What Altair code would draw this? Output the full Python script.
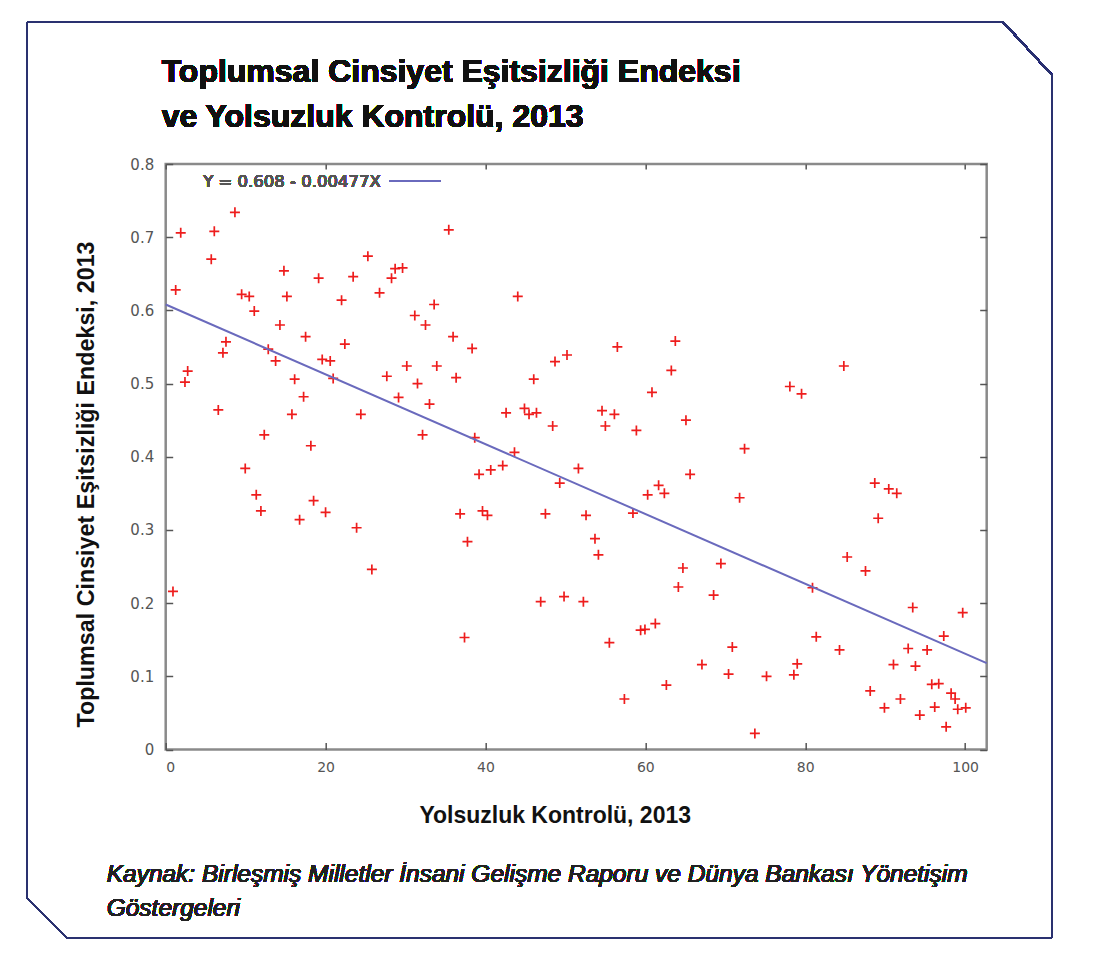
import altair as alt
import pandas as pd

# ---------------- data ----------------
X_VALS = [8.66, 1.88, 6.08, 5.70, 25.29, 1.25, 14.79, 19.13, 23.45, 9.50,
          10.45, 15.16, 22.0, 11.08, 14.29, 17.5, 22.41, 7.54, 7.16, 12.83,
          13.75, 19.58, 20.58, 2.75, 2.41, 16.13, 20.95, 17.25, 6.58, 15.79,
          24.41, 12.33, 18.16, 26.75, 28.7, 29.63, 28.25, 35.41, 33.58, 31.16,
          32.5, 35.95, 38.33, 30.16, 33.91, 27.66, 36.33, 31.5, 29.13, 33.0,
          44.04, 46.04, 48.7, 50.2, 42.58, 44.88, 45.45, 46.38, 48.41, 32.13,
          38.66, 43.63, 9.95, 11.33, 11.91, 18.5, 20.0, 16.75, 23.88, 25.79,
          0.91, 39.2, 40.66, 42.16, 49.29, 51.63, 36.83, 39.63, 40.25, 47.5,
          37.75, 37.38, 46.91, 49.83, 56.5, 63.75, 63.25, 60.83, 54.58, 56.13,
          55.0, 58.88, 65.08, 72.41, 78.08, 79.54, 84.83, 65.6, 61.66, 62.38,
          60.29, 71.79, 88.7, 90.45, 91.45, 89.13, 52.58, 58.45, 53.7, 54.13,
          64.7, 69.45, 64.13, 68.54, 80.91, 85.25, 87.54, 52.25, 93.45, 99.7,
          59.41, 59.95, 61.25, 55.5, 70.88, 81.38, 84.29, 97.33, 92.88, 95.25,
          67.08, 79.0, 91.04, 93.79, 70.41, 75.16, 78.58, 95.83, 96.7, 62.63,
          57.38, 88.13, 91.91, 98.25, 98.75, 89.91, 96.2, 99.08, 100.08, 94.33,
          97.63, 73.7]
Y_VALS = [0.734, 0.706, 0.708, 0.670, 0.674, 0.628, 0.654, 0.644, 0.646, 0.622,
          0.619, 0.619, 0.614, 0.599, 0.580, 0.564, 0.554, 0.557, 0.542, 0.547,
          0.531, 0.533, 0.531, 0.517, 0.502, 0.506, 0.507, 0.482, 0.464, 0.458,
          0.458, 0.430, 0.415, 0.624, 0.657, 0.658, 0.644, 0.710, 0.608, 0.593,
          0.580, 0.564, 0.548, 0.524, 0.524, 0.510, 0.508, 0.500, 0.481, 0.472,
          0.619, 0.506, 0.530, 0.539, 0.460, 0.466, 0.458, 0.460, 0.442, 0.430,
          0.426, 0.406, 0.384, 0.348, 0.326, 0.340, 0.324, 0.314, 0.303, 0.246,
          0.216, 0.376, 0.382, 0.388, 0.364, 0.384, 0.322, 0.326, 0.320, 0.322,
          0.284, 0.153, 0.202, 0.209, 0.550, 0.558, 0.518, 0.488, 0.463, 0.458,
          0.442, 0.436, 0.450, 0.411, 0.496, 0.486, 0.524, 0.376, 0.361, 0.350,
          0.348, 0.344, 0.364, 0.356, 0.350, 0.316, 0.320, 0.323, 0.288, 0.266,
          0.248, 0.254, 0.222, 0.211, 0.221, 0.263, 0.244, 0.202, 0.194, 0.187,
          0.163, 0.164, 0.172, 0.146, 0.140, 0.154, 0.136, 0.155, 0.138, 0.136,
          0.116, 0.117, 0.116, 0.114, 0.103, 0.100, 0.102, 0.089, 0.090, 0.088,
          0.069, 0.080, 0.069, 0.077, 0.069, 0.057, 0.058, 0.055, 0.057, 0.047,
          0.031, 0.022]

X_TICKS = [0, 20, 40, 60, 80, 100]
Y_TICKS = [0, 0.1, 0.2, 0.3, 0.4, 0.5, 0.6, 0.7, 0.8]
X_DOMAIN = [0, 102.7]
Y_DOMAIN = [0, 0.8]
INTERCEPT = 0.608
SLOPE = -0.00477
LINE_X = [0, 102.7]

TITLE_LINES = ["Toplumsal Cinsiyet Eşitsizliği Endeksi", "ve Yolsuzluk Kontrolü, 2013"]
X_TITLE = "Yolsuzluk Kontrolü, 2013"
Y_TITLE = "Toplumsal Cinsiyet Eşitsizliği Endeksi, 2013"
SOURCE_LINES = ["Kaynak: Birleşmiş Milletler İnsani Gelişme Raporu ve Dünya Bankası Yönetişim",
                "Göstergeleri"]
LEGEND_TEXT = "Y = 0.608 - 0.00477X"

# ---------------- styling ----------------
HEAD = "Liberation Sans, Arial, sans-serif"
PLAIN = "DejaVu Sans, Liberation Sans, sans-serif"
W, H = 821, 585.5
FRAME = "#2b3270"

pts = pd.DataFrame({"x": X_VALS, "y": Y_VALS})
line_df = pd.DataFrame({"x": LINE_X})

xscale = alt.Scale(domain=X_DOMAIN, nice=False, zero=False)
yscale = alt.Scale(domain=Y_DOMAIN, nice=False, zero=False)

points = alt.Chart(pts).mark_point(
    shape="M-1,0L1,0M0,-1L0,1", filled=False, color="#ee1111",
    strokeWidth=1.7, size=100, opacity=0.95
).encode(
    x=alt.X("x:Q", scale=xscale, axis=alt.Axis(
        orient="bottom", values=X_TICKS, format="d", grid=False, domain=False,
        offset=-7, tickSize=7, tickColor="#555", tickWidth=1.5,
        labelFont=PLAIN, labelFontSize=14, labelColor="#555", labelPadding=11,
        title=X_TITLE, titleFont=HEAD, titleFontSize=23, titleFontWeight="bold",
        titleColor="#111", titleX=389, titleY=80, titleBaseline="alphabetic")),
    y=alt.Y("y:Q", scale=yscale, axis=alt.Axis(
        orient="left", values=Y_TICKS, format="~g", grid=False, domain=False,
        offset=-7, tickSize=7, tickColor="#555", tickWidth=1.5,
        labelFont=PLAIN, labelFontSize=15, labelColor="#555", labelPadding=12,
        title=Y_TITLE, titleFont=HEAD, titleFontSize=23.3, titleFontWeight="bold",
        titleColor="#111", titleX=-79, titleY=320, titleAngle=-90,
        titleBaseline="alphabetic")),
)

reg = alt.Chart(line_df).transform_calculate(
    y=f"{INTERCEPT} + ({SLOPE}) * datum.x"
).mark_line(color="#6a6abd", strokeWidth=2).encode(
    x=alt.X("x:Q", scale=xscale, axis=alt.Axis(
        orient="top", values=X_TICKS, labels=False, title=None, grid=False,
        domain=False, offset=-5, tickSize=5, tickColor="#555", tickWidth=1.5)),
    y=alt.Y("y:Q", scale=yscale, axis=alt.Axis(
        orient="right", values=Y_TICKS, labels=False, title=None, grid=False,
        domain=False, offset=-7, tickSize=7, tickColor="#555", tickWidth=1.5)),
)

legend_text = alt.Chart(pts).mark_text(
    align="right", baseline="middle", font=PLAIN, fontSize=16.5, color="#555"
).encode(x=alt.value(215), y=alt.value(18), text=alt.value(LEGEND_TEXT))

legend_line = alt.Chart(pts).mark_rule(color="#6a6abd", strokeWidth=2).encode(
    x=alt.value(224), x2=alt.value(275), y=alt.value(17))

title = alt.Chart(pts).mark_text(
    align="left", baseline="alphabetic", font=HEAD, fontSize=32,
    fontWeight="bold", color="#111", lineHeight=45
).encode(x=alt.value(-4), y=alt.value(-82), text=alt.value(TITLE_LINES))

source = alt.Chart(pts).mark_text(
    align="left", baseline="alphabetic", font=HEAD, fontSize=24.5,
    fontStyle="italic", color="#222", lineHeight=34
).encode(x=alt.value(-59), y=alt.value(718), text=alt.value(SOURCE_LINES))

def seg(x1, y1, x2, y2):
    return alt.Chart(pts).mark_rule(color=FRAME, strokeWidth=1.6).encode(
        x=alt.value(x1), y=alt.value(y1), x2=alt.value(x2), y2=alt.value(y2))

frame = [
    seg(-138.7, -142, 837.3, -142),
    seg(837.3, -142, 886.3, -89),
    seg(886.3, -89, 886.3, 774),
    seg(-98.7, 774, 886.3, 774),
    seg(-138.7, 734, -98.7, 774),
    seg(-138.7, -142, -138.7, 734),
]

chart = alt.layer(
    points, reg, legend_text, legend_line, title, source, *frame
).resolve_axis(x="independent", y="independent").properties(
    width=W, height=H,
    autosize=alt.AutoSizeParams(type="none"),
    padding={"left": 157.7, "top": 156, "right": 75, "bottom": 200},
    background="white",
).configure_view(stroke="#8a8a8a", strokeWidth=2.5)

chart.save("out.html", embed_options={"renderer": "svg", "actions": False})
